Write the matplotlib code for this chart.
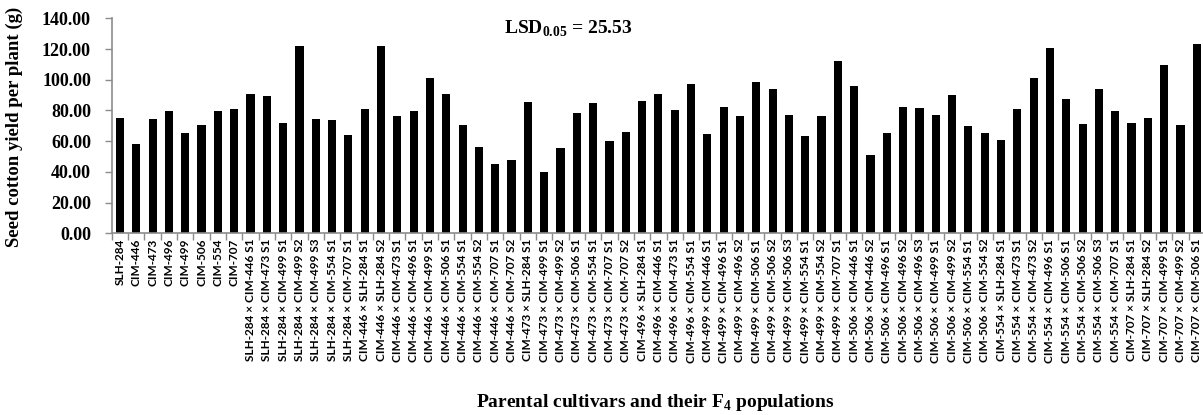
import matplotlib
matplotlib.use("Agg")
import matplotlib.pyplot as plt
import numpy as np

# Parents followed by the F4 populations (cross + selection)
parents = ["SLH-284", "CIM-446", "CIM-473", "CIM-496", "CIM-499", "CIM-506", "CIM-554", "CIM-707"]
crosses = [
    "SLH-284 × CIM-446 S1", "SLH-284 × CIM-473 S1", "SLH-284 × CIM-499 S1",
    "SLH-284 × CIM-499 S2", "SLH-284 × CIM-499 S3", "SLH-284 × CIM-554 S1",
    "SLH-284 × CIM-707 S1", "CIM-446 × SLH-284 S1", "CIM-446 × SLH-284 S2",
    "CIM-446 × CIM-473 S1", "CIM-446 × CIM-496 S1", "CIM-446 × CIM-499 S1",
    "CIM-446 × CIM-506 S1", "CIM-446 × CIM-554 S1", "CIM-446 × CIM-554 S2",
    "CIM-446 × CIM-707 S1", "CIM-446 × CIM-707 S2", "CIM-473 × SLH-284 S1",
    "CIM-473 × CIM-499 S1", "CIM-473 × CIM-499 S2", "CIM-473 × CIM-506 S1",
    "CIM-473 × CIM-554 S1", "CIM-473 × CIM-707 S1", "CIM-473 × CIM-707 S2",
    "CIM-496 × SLH-284 S1", "CIM-496 × CIM-446 S1", "CIM-496 × CIM-473 S1",
    "CIM-496 × CIM-554 S1", "CIM-499 × CIM-446 S1", "CIM-499 × CIM-496 S1",
    "CIM-499 × CIM-496 S2", "CIM-499 × CIM-506 S1", "CIM-499 × CIM-506 S2",
    "CIM-499 × CIM-506 S3", "CIM-499 × CIM-554 S1", "CIM-499 × CIM-554 S2",
    "CIM-499 × CIM-707 S1", "CIM-506 × CIM-446 S1", "CIM-506 × CIM-446 S2",
    "CIM-506 × CIM-496 S1", "CIM-506 × CIM-496 S2", "CIM-506 × CIM-496 S3",
    "CIM-506 × CIM-499 S1", "CIM-506 × CIM-499 S2", "CIM-506 × CIM-554 S1",
    "CIM-506 × CIM-554 S2", "CIM-554 × SLH-284 S1", "CIM-554 × CIM-473 S1",
    "CIM-554 × CIM-473 S2", "CIM-554 × CIM-496 S1", "CIM-554 × CIM-506 S1",
    "CIM-554 × CIM-506 S2", "CIM-554 × CIM-506 S3", "CIM-554 × CIM-707 S1",
    "CIM-707 × SLH-284 S1", "CIM-707 × SLH-284 S2", "CIM-707 × CIM-499 S1",
    "CIM-707 × CIM-499 S2", "CIM-707 × CIM-506 S1",
]

parent_yield = [75.1, 58.2, 74.5, 79.7, 65.3, 70.5, 79.7, 81.0]
cross_yield = [
    90.7, 89.4, 71.8, 122.0, 74.5, 73.8, 64.0, 81.0, 122.0, 76.4,
    79.7, 101.2, 90.7, 70.5, 56.2, 45.1, 47.8, 85.5, 39.9, 55.6,
    78.4, 84.9, 60.1, 66.0, 86.4, 90.7, 80.3, 97.2, 64.7, 82.3,
    76.4, 98.5, 94.0, 77.1, 63.4, 76.4, 112.2, 95.9, 51.0, 65.3,
    82.3, 81.6, 77.1, 90.1, 69.9, 65.3, 60.8, 81.0, 101.2, 120.7,
    87.5, 71.2, 94.0, 79.7, 71.8, 75.1, 109.6, 70.5, 123.3,
]

lsd = 25.53

labels = parents + crosses
values = parent_yield + cross_yield

plt.rcParams["mathtext.fontset"] = "custom"
plt.rcParams["mathtext.rm"] = "Liberation Serif:bold"
plt.rcParams["mathtext.bf"] = "Liberation Serif:bold"

serif = "Liberation Serif"
gray = "#8c8c8c"

fig = plt.figure(figsize=(12.03, 4.15), dpi=100)
ax = fig.add_axes([111.8 / 1203, 0.4378, (1205 - 111.8) / 1203, 0.518])

x = np.arange(len(values))
ax.bar(x, values, width=0.5, color="black")

ax.set_xlim(-0.5, len(values) - 0.5)
ax.set_ylim(0, 140)
ax.set_yticks(np.arange(0, 141, 20))
ax.set_yticklabels([f"{v:.2f}" for v in np.arange(0, 141, 20)],
                   fontfamily=serif, fontweight="bold", fontsize=13)

ax.set_xticks(x)
ax.set_xticklabels(labels, rotation=90, fontfamily="Lato", fontweight="bold", fontsize=8.5)
ax.set_xticks(np.arange(-0.5, len(values), 1), minor=True)
ax.tick_params(axis="x", which="major", length=0, pad=4)
ax.tick_params(axis="x", which="minor", length=5, color=gray, width=1)
ax.tick_params(axis="y", length=5, color=gray, width=1, pad=10)

for side in ["top", "right"]:
    ax.spines[side].set_visible(False)
for side in ["left", "bottom"]:
    ax.spines[side].set_color(gray)
    ax.spines[side].set_linewidth(1.2)

ax.text(0.418, 0.95, r"LSD$_{\mathbf{0.05}}$ = " + f"{lsd:.2f}", transform=ax.transAxes,
        ha="center", va="center", fontfamily=serif, fontweight="bold", fontsize=14)

fig.text(0.012, 0.695, "Seed cotton yield per plant (g)", rotation=90,
         ha="center", va="center", fontfamily=serif, fontweight="bold", fontsize=13.5)
fig.text(0.545, 0.03, r"Parental cultivars and their F$_{\mathbf{4}}$ populations",
         ha="center", va="center", fontfamily=serif, fontweight="bold", fontsize=14)

fig.savefig("out.png", dpi=100)
